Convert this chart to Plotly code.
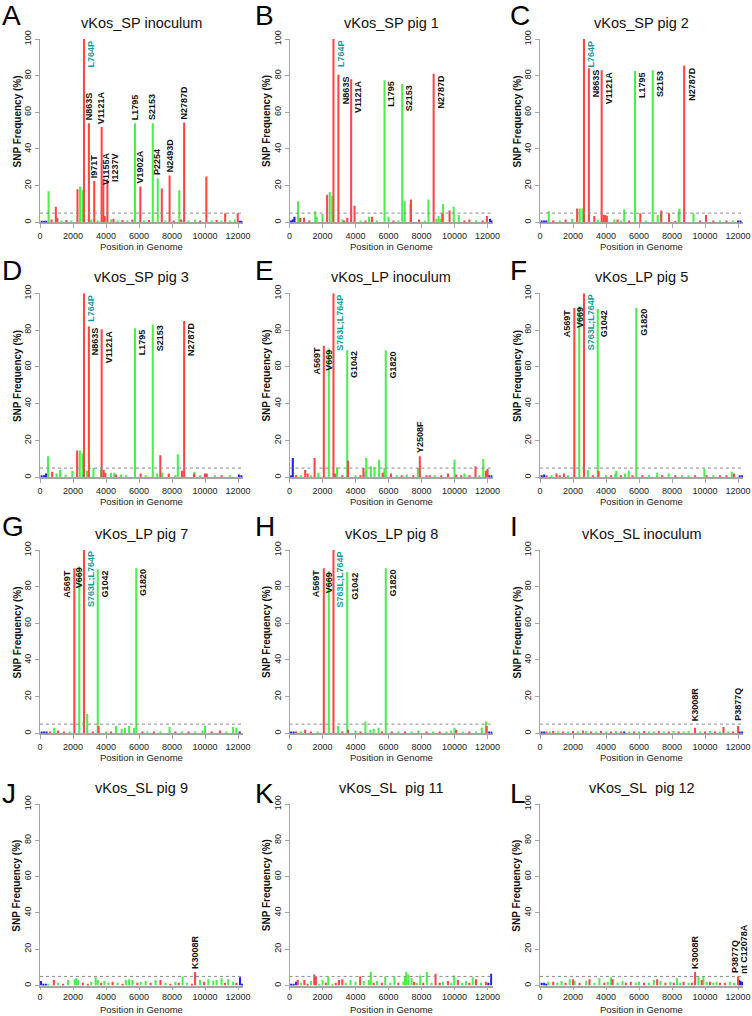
import plotly.graph_objects as go

# ---------------- data ----------------
panel_ids = ["A", "B", "C", "D", "E", "F", "G", "H", "I", "J", "K", "L"]
panel_titles = ["vKos_SP inoculum", "vKos_SP pig 1", "vKos_SP pig 2",
                "vKos_SP pig 3", "vKos_LP inoculum", "vKos_LP pig 5",
                "vKos_LP pig 7", "vKos_LP pig 8", "vKos_SL inoculum",
                "vKos_SL pig 9", "vKos_SL\u00a0 pig 11", "vKos_SL\u00a0 pig 12"]
x_ticks = [0, 2000, 4000, 6000, 8000, 10000, 12000]
x_tick_labels = ["0", "2000", "4000", "6000", "8000", "10000", "12000"]
y_ticks = [0, 20, 40, 60, 80, 100]
y_tick_labels = ["0", "20", "40", "60", "80", "100"]
threshold = 5

# (position in genome, SNP frequency %, class) ; N = non-synonymous, S = synonymous, U = non-coding
snps_A = [(100,0.8,"U"),(250,0.8,"U"),(380,0.8,"U"),(520,17,"S"),(700,1.5,"N"),(960,8.5,"N"),(1050,2.5,"N"),
          (1300,1,"S"),(1600,1.2,"N"),(1900,1,"S"),(2270,18,"N"),(2430,19.5,"S"),(2590,17.5,"S"),(2665,100,"N"),
          (2962,54,"N"),(3100,1.5,"S"),(3286,22.5,"N"),(3500,1,"S"),(3736,52,"N"),(3838,23,"N"),(3920,3.5,"N"),
          (4084,23.5,"N"),(4300,1.5,"S"),(4450,2,"N"),(4700,1,"S"),(5000,1.2,"N"),(5300,1,"S"),(5600,1.5,"N"),
          (5758,54,"S"),(6079,19.5,"N"),(6300,1,"S"),(6600,1.2,"N"),(6832,54,"S"),(7135,24,"S"),(7380,18.5,"N"),
          (7600,1,"S"),(7852,25.5,"N"),(8100,1,"N"),(8440,17.5,"S"),(8560,1.5,"N"),(8734,54.5,"N"),(9000,1,"S"),
          (9400,1.5,"S"),(9700,1,"N"),(10080,25,"N"),(10400,1,"S"),(10700,1.2,"N"),(11000,1,"S"),(11220,5,"N"),
          (11500,1,"S"),(11800,1.5,"S"),(11980,5,"N"),(12100,0.8,"U"),(12200,0.8,"U")]
snps_B = [(100,1,"U"),(200,1.5,"U"),(300,3,"U"),(520,11.5,"S"),(650,2.5,"N"),(880,2.5,"N"),(1200,1,"N"),
          (1560,6,"S"),(1650,3,"S"),(2000,4.5,"S"),(2280,15,"N"),(2440,16.5,"S"),(2590,14.5,"S"),(2665,100,"N"),
          (2962,80.5,"N"),(3200,1.5,"S"),(3300,1,"N"),(3500,2.5,"N"),(3736,78,"N"),(3940,9,"N"),(4300,1,"S"),
          (4600,1,"N"),(4820,3,"S"),(5000,3,"N"),(5300,1,"S"),(5758,77.5,"S"),(6000,3,"S"),(6300,1,"N"),
          (6600,1,"S"),(6832,75.5,"S"),(6980,11.5,"S"),(7330,10,"S"),(7360,12.5,"N"),(7850,1.5,"N"),(8200,1,"S"),
          (8420,12.5,"S"),(8734,81,"N"),(8900,2,"S"),(9030,3.5,"S"),(9150,2,"S"),(9260,5,"N"),(9310,10,"S"),
          (9700,6.5,"N"),(9950,8.5,"S"),(10260,4,"S"),(10600,1,"N"),(10900,1.5,"N"),(11300,1,"S"),(11700,1,"N"),
          (11960,3.5,"N"),(12150,2,"U"),(12250,1,"U")]
snps_C = [(100,1,"U"),(250,1,"U"),(380,1,"U"),(530,6,"S"),(800,1,"N"),(1200,1,"S"),(1550,1.5,"N"),(1950,2,"S"),
          (2250,7.5,"N"),(2410,7.5,"S"),(2590,7.5,"S"),(2665,100,"N"),(2962,84,"N"),(3290,3.5,"N"),(3500,1.5,"S"),
          (3736,83,"N"),(3850,4,"N"),(3950,4,"N"),(4050,3.5,"N"),(4500,1.5,"S"),(4700,1.5,"N"),(4900,1,"S"),
          (5100,7,"S"),(5400,1,"N"),(5758,82.5,"S"),(6079,5,"N"),(6400,1,"S"),(6832,83,"S"),(7130,4,"S"),
          (7320,5.5,"S"),(7350,6.5,"N"),(7820,5,"N"),(8200,0.7,"N"),(8400,6,"S"),(8450,7.5,"S"),(8734,85.5,"N"),
          (9300,5,"S"),(9700,1,"N"),(10060,4,"N"),(10500,1,"N"),(10900,1,"S"),(11300,1,"N"),(11700,1,"S"),
          (12000,1,"U"),(12150,1,"U")]
snps_D = [(100,1,"U"),(250,1,"U"),(360,2,"U"),(490,11.5,"S"),(740,3,"N"),(1000,2,"S"),(1220,4,"S"),(1550,1.5,"S"),
          (1960,3.5,"S"),(2250,14.5,"N"),(2410,14.5,"S"),(2590,13,"S"),(2665,100,"N"),(2850,3.5,"S"),(2962,82,"N"),
          (3240,5,"S"),(3700,4,"S"),(3736,80.5,"N"),(3860,4,"N"),(3960,2.5,"N"),(4300,2.5,"S"),(4500,2.5,"S"),
          (4600,1.5,"N"),(4900,1.5,"S"),(5200,1,"S"),(5758,81,"S"),(6100,2,"N"),(6400,1,"S"),(6832,83,"S"),
          (7100,2,"S"),(7290,12,"N"),(7400,2.5,"S"),(7800,2,"N"),(8200,1,"S"),(8350,12.5,"S"),(8600,3.5,"N"),
          (8734,85,"N"),(9330,2,"N"),(9360,3,"S"),(9700,1,"S"),(10000,2,"N"),(10100,2,"N"),(10600,1,"S"),
          (11000,1,"N"),(11500,1,"S"),(12050,1.5,"U"),(12200,1,"U")]
snps_E = [(100,1,"U"),(200,10.5,"U"),(400,1,"N"),(700,1,"S"),(950,4,"N"),(1100,2,"N"),(1300,1,"S"),(1520,10.5,"N"),
          (1750,2.5,"S"),(2080,71.5,"N"),(2380,70,"S"),(2665,100,"N"),(2750,2,"N"),(2880,5.5,"S"),(3200,1,"N"),
          (3499,69,"S"),(3540,9,"N"),(4000,1,"S"),(4300,1,"N"),(4480,5,"N"),(4600,3,"S"),(4650,10.5,"S"),
          (4930,6,"S"),(5150,5.5,"S"),(5430,9.5,"S"),(5650,2.5,"N"),(5750,5,"S"),(5833,69,"S"),(6150,2,"N"),
          (6500,1,"S"),(6800,1,"N"),(7100,1.5,"S"),(7500,1,"N"),(7780,5,"S"),(7897,11.5,"N"),(8300,1,"N"),
          (8500,1,"N"),(8800,1,"S"),(9200,1,"N"),(9600,2,"N"),(10000,9.5,"S"),(10100,1.5,"N"),(10400,1,"N"),
          (10600,2,"S"),(10900,1,"N"),(11270,6,"N"),(11500,1,"S"),(11740,10,"S"),(11900,3.5,"N"),(12000,4.5,"N"),
          (12100,1,"U"),(12250,1,"U")]
snps_F = [(100,1,"U"),(250,1.5,"U"),(400,1,"N"),(700,1,"S"),(1000,2,"N"),(1200,1,"N"),(1450,2,"N"),(1700,1,"S"),
          (2080,92,"N"),(2380,93,"S"),(2665,100,"N"),(2900,4,"S"),(3200,1,"N"),(3499,91.5,"S"),(3550,3.5,"N"),
          (4000,1,"S"),(4300,1,"N"),(4560,2,"S"),(4620,3.5,"S"),(4900,1,"N"),(5150,2,"S"),(5380,3.5,"S"),
          (5600,1,"N"),(5833,92,"S"),(6200,1,"N"),(6600,1,"S"),(7100,2.5,"S"),(7400,1,"N"),(7800,2,"S"),
          (8200,1,"N"),(8600,1,"S"),(9000,1,"S"),(9400,1,"N"),(9960,4.5,"S"),(10100,1,"N"),(10500,1,"S"),
          (10900,1,"N"),(11300,1,"N"),(11620,3,"S"),(11750,2,"N"),(12100,1,"U"),(12250,1,"U")]
snps_G = [(100,1,"U"),(250,1,"U"),(400,1,"U"),(600,1,"N"),(860,3,"S"),(1100,1.5,"N"),(1450,1,"N"),(1800,1,"S"),
          (2080,90,"N"),(2380,91,"S"),(2665,100,"N"),(2860,10.5,"S"),(3200,1,"N"),(3499,89.5,"S"),(3550,4,"N"),
          (4000,1,"S"),(4300,1,"N"),(4600,4,"S"),(4950,2.5,"S"),(5150,3,"S"),(5400,4,"S"),(5700,3,"S"),
          (5833,90,"S"),(6200,1,"N"),(6500,1,"S"),(6900,1,"N"),(7300,1,"S"),(7850,3.5,"S"),(8200,1,"N"),
          (8600,1,"S"),(9000,1,"N"),(9400,1,"S"),(9850,1.5,"S"),(10000,4,"S"),(10400,1,"N"),(10900,1.5,"N"),
          (11300,1,"S"),(11700,3.5,"S"),(11900,3,"S"),(12100,1,"U")]
snps_H = [(100,1,"U"),(250,1,"U"),(400,1,"N"),(700,1,"S"),(950,2,"N"),(1300,1,"N"),(1700,1,"S"),(2080,90,"N"),
          (2380,88.5,"S"),(2665,100,"N"),(2950,4,"S"),(3200,1,"N"),(3499,88,"S"),(3550,2,"N"),(4000,1.5,"S"),
          (4300,1,"N"),(4600,6.5,"S"),(4900,2,"S"),(5100,2.5,"S"),(5400,3,"S"),(5600,1,"N"),(5833,90,"S"),
          (6200,1,"N"),(6600,1,"S"),(7000,1,"N"),(7400,1,"S"),(7800,1.5,"S"),(8300,1,"N"),(8700,1,"S"),
          (9100,1,"N"),(9500,1,"S"),(9800,1.5,"S"),(10000,3,"S"),(10100,2,"N"),(10500,1,"S"),(10900,1,"N"),
          (11300,1,"S"),(11650,3,"S"),(11900,6.5,"S"),(11950,4,"N"),(12100,1,"U"),(12250,1,"U")]
snps_I = [(100,1,"U"),(250,1,"U"),(400,1,"N"),(600,1,"S"),(800,1.2,"N"),(1100,1,"S"),(1400,1,"N"),(1700,1,"S"),
          (2000,1.2,"N"),(2300,1,"S"),(2600,1.5,"N"),(2800,1.2,"S"),(3100,1,"N"),(3400,1,"S"),(3700,1.2,"N"),
          (4000,1,"S"),(4300,1,"N"),(4600,1.2,"S"),(4900,1,"N"),(5100,1,"U"),(5400,1,"S"),(5700,1,"N"),
          (6000,1,"S"),(6300,1.2,"N"),(6600,1,"S"),(6900,1,"S"),(7200,1.2,"N"),(7500,1,"S"),(7800,1,"N"),
          (8100,1.2,"S"),(8400,1,"N"),(8700,1,"S"),(9000,1.2,"S"),(9397,3,"N"),(9700,1,"S"),(10000,1,"N"),
          (10300,1.2,"S"),(10600,1,"N"),(10900,1,"S"),(11120,3.5,"N"),(11400,1,"S"),(11700,1,"N"),(12004,4,"N"),
          (12100,1,"U"),(12250,1,"U")]
snps_J = [(60,2.5,"U"),(200,1,"U"),(350,1,"U"),(500,1,"S"),(840,3,"N"),(1100,1.5,"S"),(1400,1,"N"),(1700,3,"S"),
          (2100,3.5,"S"),(2200,4,"S"),(2300,3,"S"),(2600,1.5,"N"),(2900,1,"N"),(3100,2,"S"),(3370,4.5,"S"),
          (3500,3,"S"),(3700,1.5,"N"),(3900,2.5,"S"),(4150,1.5,"S"),(4400,2,"N"),(4700,1.5,"S"),(5000,1,"N"),
          (5200,3,"S"),(5400,3.5,"S"),(5600,3,"S"),(5900,1.5,"N"),(6100,2,"S"),(6400,2.5,"S"),(6700,1.5,"N"),
          (7000,3,"S"),(7300,3,"N"),(7600,1.5,"S"),(7900,1,"N"),(8200,2,"S"),(8400,1.5,"N"),(8640,5,"S"),
          (8900,1.5,"S"),(9200,1,"N"),(9397,7.5,"N"),(9700,3,"S"),(9950,2,"N"),(10200,3.5,"S"),(10500,2.5,"S"),
          (10700,3,"S"),(11000,4,"S"),(11200,1.5,"N"),(11400,3.5,"S"),(11700,2,"S"),(11900,1.5,"N"),
          (12120,4.5,"U"),(12250,1,"U")]
snps_K = [(100,1,"U"),(250,1,"U"),(400,2,"U"),(500,3,"N"),(700,1.5,"S"),(900,3,"N"),(1100,1,"N"),(1300,2.5,"S"),
          (1500,6,"N"),(1600,5,"N"),(1800,1,"S"),(2000,3,"S"),(2200,1.5,"N"),(2350,5,"S"),(2600,1,"S"),
          (2800,1.5,"N"),(3000,3,"N"),(3200,3.5,"N"),(3400,1.5,"S"),(3700,3,"S"),(4000,2,"S"),(4280,5,"N"),
          (4500,2.5,"S"),(4800,3,"S"),(4930,7.5,"S"),(5100,1.5,"N"),(5300,2.5,"S"),(5600,1.5,"N"),(5800,5,"S"),
          (6100,1.5,"S"),(6360,5,"S"),(6600,1.5,"N"),(6900,2,"S"),(7000,5,"S"),(7070,7.5,"S"),(7200,6,"S"),
          (7400,4,"S"),(7550,2,"N"),(7700,1.5,"S"),(7920,5.5,"S"),(8100,1.5,"N"),(8320,7.5,"S"),(8600,1.5,"S"),
          (8850,6.5,"N"),(9100,1.5,"N"),(9300,2,"S"),(9600,2.5,"N"),(9800,1.5,"S"),(9980,5.5,"S"),(10200,3,"N"),
          (10450,1.5,"S"),(10700,2.5,"S"),(10900,1.5,"N"),(11100,4.5,"S"),(11300,3.5,"N"),(11600,1.5,"S"),
          (11900,2,"N"),(12050,1.5,"U"),(12220,6.5,"U")]
snps_L = [(100,1.5,"U"),(250,1.5,"U"),(380,1,"U"),(500,2,"S"),(800,2,"N"),(1050,1.5,"S"),(1300,2.5,"S"),
          (1550,1.5,"N"),(1800,3.5,"S"),(2000,3.5,"N"),(2100,2.5,"S"),(2400,1.5,"N"),(2800,2.5,"S"),(3000,3.5,"N"),
          (3300,1.5,"S"),(3600,4,"S"),(3900,1.5,"N"),(4100,2,"S"),(4300,4.5,"S"),(4400,3.5,"N"),(4700,1.5,"S"),
          (5000,2.5,"S"),(5200,1.5,"N"),(5500,2,"N"),(5800,1.5,"S"),(6000,2,"S"),(6300,1.5,"N"),(6600,1.5,"S"),
          (6900,3,"S"),(7100,3.5,"N"),(7300,2.5,"S"),(7600,1.5,"N"),(7900,2,"S"),(8100,1.5,"N"),(8300,4,"S"),
          (8500,1.5,"S"),(8700,2,"N"),(9000,1.5,"S"),(9200,1.5,"N"),(9397,7.5,"N"),(9600,5,"S"),(9800,3,"N"),
          (9900,5,"S"),(10100,2,"S"),(10300,2,"N"),(10500,1.5,"S"),(10700,2,"S"),(10900,1.5,"N"),(11200,1.5,"N"),
          (11500,2,"S"),(11750,1.5,"S"),(12004,5,"N"),(12078,3,"U"),(12150,2.5,"U"),(12250,2,"U")]

# labelled mutations: (text, genome position, placement)
SP_LABELS = [("L764P", 2665, "right"), ("N863S", 2962, "right"), ("V1121A", 3736, "right"),
             ("L1795", 5758, "right"), ("S2153", 6832, "right"), ("N2787D", 8734, "right")]
LP_LABELS = [("A569T", 2080, "left"), ("V669", 2380, "center"), ("S763L;L764P", 2665, "right"),
             ("G1042", 3499, "right"), ("G1820", 5833, "right")]
labels_A = [("L764P", 2665, "right"), ("N863S", 2962, "above"), ("I971T", 3286, "above"),
            ("V1121A", 3736, "above"), ("V1155A", 3838, "above"), ("I1237V", 4084, "above"),
            ("L1795", 5758, "above"), ("V1902A", 6079, "above"), ("S2153", 6832, "above"),
            ("P2254", 7135, "above"), ("N2493D", 7852, "above"), ("N2787D", 8734, "above")]
labels_E = LP_LABELS + [("Y2508F", 7897, "above")]
labels_I = [("K3008R", 9397, "above"), ("P3877Q", 12004, "above")]
labels_J = [("K3008R", 9397, "above")]
labels_L = [("K3008R", 9397, "above"), ("P3877Q", 12004, "above"), ("nt C12078A", 12078, "above")]
highlight_labels = {"L764P", "S763L;L764P"}

panel_snps = [snps_A, snps_B, snps_C, snps_D, snps_E, snps_F, snps_G, snps_H, snps_I, snps_J, snps_K, snps_L]
panel_labels = [labels_A, SP_LABELS, SP_LABELS, SP_LABELS, labels_E, LP_LABELS, LP_LABELS, LP_LABELS,
                labels_I, labels_J, [], labels_L]

# ---------------- style / layout ----------------
W, H = 752, 1016
FONT = "Liberation Sans, Arial, Helvetica, sans-serif"
COL_LEFT = [40, 289.5, 540]
PLOT_W = 203
ROW_TOP = [39, 293.3, 550, 804]
ROW_BOT = [222.3, 477.3, 733.3, 985.5]
XTITLE_OFF = [24, 24, 24, 24]
XTICK_LEN = [4, 4, 4, 2]
X_MAX = 12300
LETTER_X = [0, 253, 508]
LETTER_Y = [15.5, 271, 526, 793]
AXIS_GRAY = "#a6a6a6"
CLASS_COLORS = {"N": "#ff4545", "S": "#4bef4b", "U": "#1f1fff"}
TEAL = "#139a9a"
NUDGE = {("A", "V1155A"): (2, 8), ("A", "I1237V"): (7, 6),
         ("L", "P3877Q"): (-3, 0), ("L", "nt C12078A"): (5, 0)}


def fx(px):
    return px / W


def fy(py):
    return 1 - py / H


fig = go.Figure()
layout = dict(width=W, height=H, margin=dict(l=0, r=0, t=0, b=0),
              paper_bgcolor="white", plot_bgcolor="white", showlegend=False,
              barmode="overlay", font=dict(family=FONT, color="#111"))
annotations = []
shapes = []

for i, pid in enumerate(panel_ids):
    r, c = divmod(i, 3)
    n = i + 1
    sfx = "" if n == 1 else str(n)
    xref, yref = "x" + sfx, "y" + sfx
    x0, x1 = COL_LEFT[c], COL_LEFT[c] + PLOT_W
    layout["xaxis" + sfx] = dict(
        domain=[fx(x0), fx(x1)], range=[0, X_MAX], anchor=yref, tickmode="array", tickvals=x_ticks,
        ticktext=x_tick_labels, ticks="outside", ticklen=XTICK_LEN[r], tickcolor=AXIS_GRAY, tickwidth=1,
        showline=True, linecolor=AXIS_GRAY, linewidth=2, showgrid=False, zeroline=False, layer="below traces",
        tickfont=dict(size=9, color="#222", family=FONT), fixedrange=True, automargin=False)
    layout["yaxis" + sfx] = dict(
        domain=[fy(ROW_BOT[r]), fy(ROW_TOP[r])], range=[0, 100], anchor=xref, tickmode="array",
        tickvals=y_ticks, ticktext=y_tick_labels, tickangle=-90, ticks="outside", ticklen=4,
        tickcolor=AXIS_GRAY, tickwidth=1, showline=True, linecolor=AXIS_GRAY, linewidth=1, showgrid=False,
        zeroline=False, layer="below traces", tickfont=dict(size=9, color="#222", family=FONT),
        fixedrange=True, automargin=False)

    snps = panel_snps[i]
    for cls in ["U", "S", "N"]:
        xs = [p for p, v, k in snps if k == cls]
        ys = [v for p, v, k in snps if k == cls]
        fig.add_trace(go.Bar(x=xs, y=ys, xaxis=xref, yaxis=yref, width=125,
                             marker=dict(color=CLASS_COLORS[cls], line=dict(width=0)),
                             hoverinfo="x+y"))

    # threshold line
    shapes.append(dict(type="line", xref=xref, yref=yref, x0=0, x1=X_MAX, y0=threshold, y1=threshold,
                       line=dict(color="#8c8c8c", width=1, dash="dot")))

    # title, letter, axis titles
    cx = (x0 + x1) / 2
    annotations.append(dict(text=panel_titles[i], xref="paper", yref="paper", x=fx(cx), y=fy(ROW_TOP[r] - 16),
                            showarrow=False, xanchor="center", yanchor="middle",
                            font=dict(size=14.5, color="#111", family=FONT)))
    annotations.append(dict(text=pid, xref="paper", yref="paper", x=fx(LETTER_X[c]), y=fy(LETTER_Y[r]),
                            showarrow=False, xanchor="left", yanchor="middle",
                            font=dict(size=28, color="#000", family=FONT)))
    annotations.append(dict(text="Position in Genome", xref="paper", yref="paper", x=fx(cx),
                            y=fy(ROW_BOT[r] + XTITLE_OFF[r]), showarrow=False, xanchor="center",
                            yanchor="middle", font=dict(size=9.5, color="#222", family=FONT)))
    annotations.append(dict(text="<b>SNP Frequency (%)</b>", xref="paper", yref="paper", x=fx(x0 - 23),
                            y=fy(ROW_BOT[r] - 0.55 * (ROW_BOT[r] - ROW_TOP[r])), textangle=-90,
                            showarrow=False, xanchor="center", yanchor="middle",
                            font=dict(size=10, color="#111", family=FONT)))

    # mutation labels
    freq_at = {p: v for p, v, k in snps}
    for text, pos, mode in panel_labels[i]:
        val = freq_at.get(pos, 0)
        col = TEAL if text in highlight_labels else "#111"
        dx, dy = NUDGE.get((pid, text), (0, 0))
        a = dict(text="<b>" + text + "</b>", xref=xref, yref=yref, x=pos, textangle=-90, showarrow=False,
                 font=dict(size=9, color=col, family=FONT), borderpad=0)
        if mode == "above":
            a.update(y=max(val, threshold), xanchor="center", yanchor="bottom", xshift=dx, yshift=2 - dy)
        elif mode == "right":
            a.update(y=val, xanchor="left", yanchor="top", xshift=1 + dx, yshift=-dy)
        elif mode == "left":
            a.update(y=val, xanchor="right", yanchor="top", xshift=-1 + dx, yshift=-dy)
        else:
            a.update(y=val, xanchor="center", yanchor="top", xshift=dx, yshift=-dy)
        annotations.append(a)

layout["annotations"] = annotations
layout["shapes"] = shapes
fig.update_layout(**layout)
fig.write_html("out.html", config={"displayModeBar": False},
               post_script="document.body.style.margin='0px';document.body.style.overflow='hidden';")
